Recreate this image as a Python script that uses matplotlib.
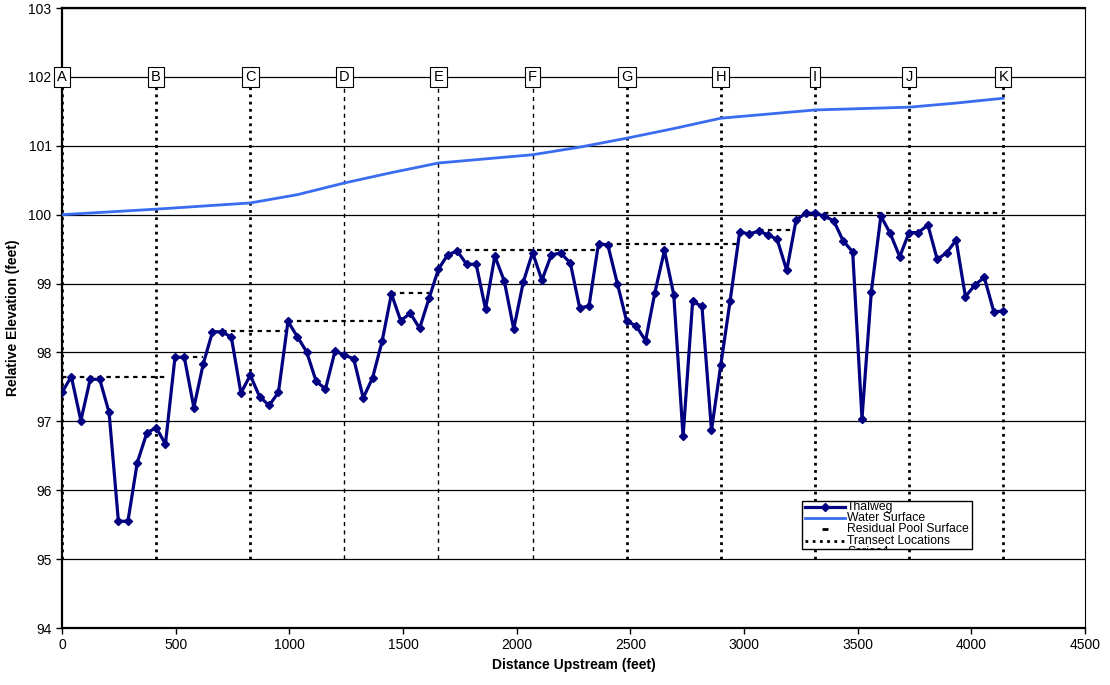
import matplotlib.pyplot as plt
from matplotlib.patches import Rectangle
from matplotlib.lines import Line2D

plt.rcParams['font.family'] = ['Liberation Sans', 'DejaVu Sans']

# thalweg survey stations (ft) and elevations (ft)
station = [0, 41, 83, 124, 166, 207, 248, 290, 331, 373,
           414, 455, 497, 538, 580, 621, 662, 704, 745, 787,
           828, 869, 911, 952, 994, 1035, 1076, 1118, 1159, 1201,
           1242, 1283, 1325, 1366, 1408, 1449, 1490, 1532, 1573, 1615,
           1656, 1697, 1739, 1780, 1822, 1863, 1904, 1946, 1987, 2029,
           2070, 2111, 2153, 2194, 2236, 2277, 2318, 2360, 2401, 2443,
           2484, 2525, 2567, 2608, 2650, 2691, 2732, 2774, 2815, 2857,
           2898, 2939, 2981, 3022, 3064, 3105, 3146, 3188, 3229, 3271,
           3312, 3353, 3395, 3436, 3478, 3519, 3560, 3602, 3643, 3685,
           3726, 3767, 3809, 3850, 3892, 3933, 3974, 4016, 4057, 4099,
           4140]
thalweg = [97.42, 97.65, 97.01, 97.61, 97.61, 97.13, 95.55, 95.55, 96.40, 96.83,
           96.91, 96.67, 97.93, 97.93, 97.20, 97.83, 98.30, 98.30, 98.22, 97.41,
           97.67, 97.36, 97.23, 97.42, 98.45, 98.23, 98.01, 97.58, 97.47, 98.02,
           97.96, 97.91, 97.34, 97.63, 98.16, 98.85, 98.46, 98.57, 98.35, 98.79,
           99.21, 99.42, 99.47, 99.28, 99.28, 98.63, 99.40, 99.03, 98.34, 99.02,
           99.45, 99.05, 99.42, 99.44, 99.30, 98.65, 98.67, 99.58, 99.56, 99.00,
           98.45, 98.39, 98.17, 98.87, 99.48, 98.84, 96.78, 98.74, 98.67, 96.87,
           97.82, 98.75, 99.75, 99.72, 99.76, 99.71, 99.64, 99.19, 99.92, 100.02,
           100.02, 99.98, 99.91, 99.62, 99.46, 97.04, 98.88, 99.98, 99.73, 99.39,
           99.74, 99.74, 99.85, 99.35, 99.45, 99.63, 98.81, 98.98, 99.09, 98.59,
           98.60]

# water surface profile
ws_station = [0, 414, 828, 1035, 1242, 1449, 1656, 1863, 2070, 2277,
              2484, 2691, 2898, 3105, 3312, 3519, 3726, 3933, 4140]
ws_elev = [100.00, 100.08, 100.17, 100.29, 100.46, 100.61, 100.75, 100.81, 100.87, 100.98,
           101.11, 101.25, 101.40, 101.46, 101.52, 101.54, 101.56, 101.62, 101.69]

# residual pool surfaces
pool_start = [0, 538, 704, 994, 1449, 1739, 2360, 3064, 3312]
pool_end = [455, 621, 994, 1430, 1615, 2350, 2975, 3220, 4140]
pool_level = [97.64, 97.94, 98.31, 98.45, 98.86, 99.48, 99.58, 99.78, 100.02]

# transects
transect_names = list('ABCDEFGHIJK')
transect_station = [0, 414, 828, 1242, 1656, 2070, 2484, 2898, 3312, 3726, 4140]
thin_transects = ['D', 'E', 'F']

fig = plt.figure(figsize=(11.1, 6.85), dpi=100)
ax = fig.add_axes([62 / 1110, 57 / 685, 1023 / 1110, 620 / 685])

ax.set_xlim(0, 4500)
ax.set_ylim(94, 103)
ax.set_xticks(range(0, 4501, 500))
ax.set_yticks(range(94, 104))
ax.yaxis.grid(True, color='black', lw=0.9)
ax.set_axisbelow(True)
ax.tick_params(direction='out', length=4, labelsize=10, width=1)
for s in ['left', 'bottom', 'top']:
    ax.spines[s].set_linewidth(1.6)
ax.spines['right'].set_linewidth(0.8)

# transect lines
for name, st in zip(transect_names, transect_station):
    if name in thin_transects:
        ax.plot([st, st], [95, 102], color='black', lw=1, ls=(0, (3, 3)), zorder=2)
    else:
        ax.plot([st, st], [95, 102], color='black', lw=2, ls=(0, (1, 1.6)), zorder=2)
    ax.text(st, 102, name, ha='center', va='center', fontsize=10.5, zorder=6,
            bbox=dict(boxstyle='square,pad=0.22', fc='white', ec='black', lw=0.8))

# residual pools
for a, b, lv in zip(pool_start, pool_end, pool_level):
    ax.plot([a, b], [lv, lv], color='black', lw=1.6, ls=(0, (2, 2)), zorder=3)

ax.plot(ws_station, ws_elev, color='#3a6cf0', lw=2, zorder=4)
ax.plot(station, thalweg, color='#000080', lw=2.3, marker='D', ms=4.5, zorder=5)

ax.set_xlabel('Distance Upstream (feet)', fontsize=10, fontweight='bold', labelpad=4)
ax.set_ylabel('Relative Elevation (feet)', fontsize=10, fontweight='bold', labelpad=6)

# legend box drawn by hand (last entry is cut off by the frame)
x0, x1, y0, y1 = 0.7234, 0.8895, 0.1269, 0.2048
box = Rectangle((x0, y0), x1 - x0, y1 - y0, transform=ax.transAxes,
                fc='white', ec='black', lw=1, zorder=7)
ax.add_patch(box)
entries = ['Thalweg', 'Water Surface', 'Residual Pool Surface', 'Transect Locations', 'Series4']
rows = [0.1952, 0.1774, 0.1589, 0.1411, 0.1226]
lx0, lx1, tx = 0.7263, 0.7654, 0.7675
for i, (lab, yy) in enumerate(zip(entries, rows)):
    t = ax.text(tx, yy, lab, transform=ax.transAxes, fontsize=8.8, va='center', zorder=8)
    t.set_clip_path(box)
    t.set_clip_on(True)
    if i == 0:
        ax.add_line(Line2D([lx0, lx1], [yy, yy], transform=ax.transAxes, color='#000080',
                           lw=2.3, zorder=8))
        ax.add_line(Line2D([(lx0 + lx1) / 2], [yy], transform=ax.transAxes, color='#000080',
                           marker='D', ms=4.5, zorder=8))
    elif i == 1:
        ax.add_line(Line2D([lx0, lx1], [yy, yy], transform=ax.transAxes, color='#3a6cf0',
                           lw=2, zorder=8))
    elif i == 2:
        ax.add_line(Line2D([(lx0 + lx1) / 2], [yy], transform=ax.transAxes, color='black',
                           marker='_', ms=5, mew=2, zorder=8))
    elif i == 3:
        ax.add_line(Line2D([lx0, lx1], [yy, yy], transform=ax.transAxes, color='black',
                           lw=2, ls=(0, (1, 1.6)), zorder=8))

fig.savefig('out.png', dpi=100)
